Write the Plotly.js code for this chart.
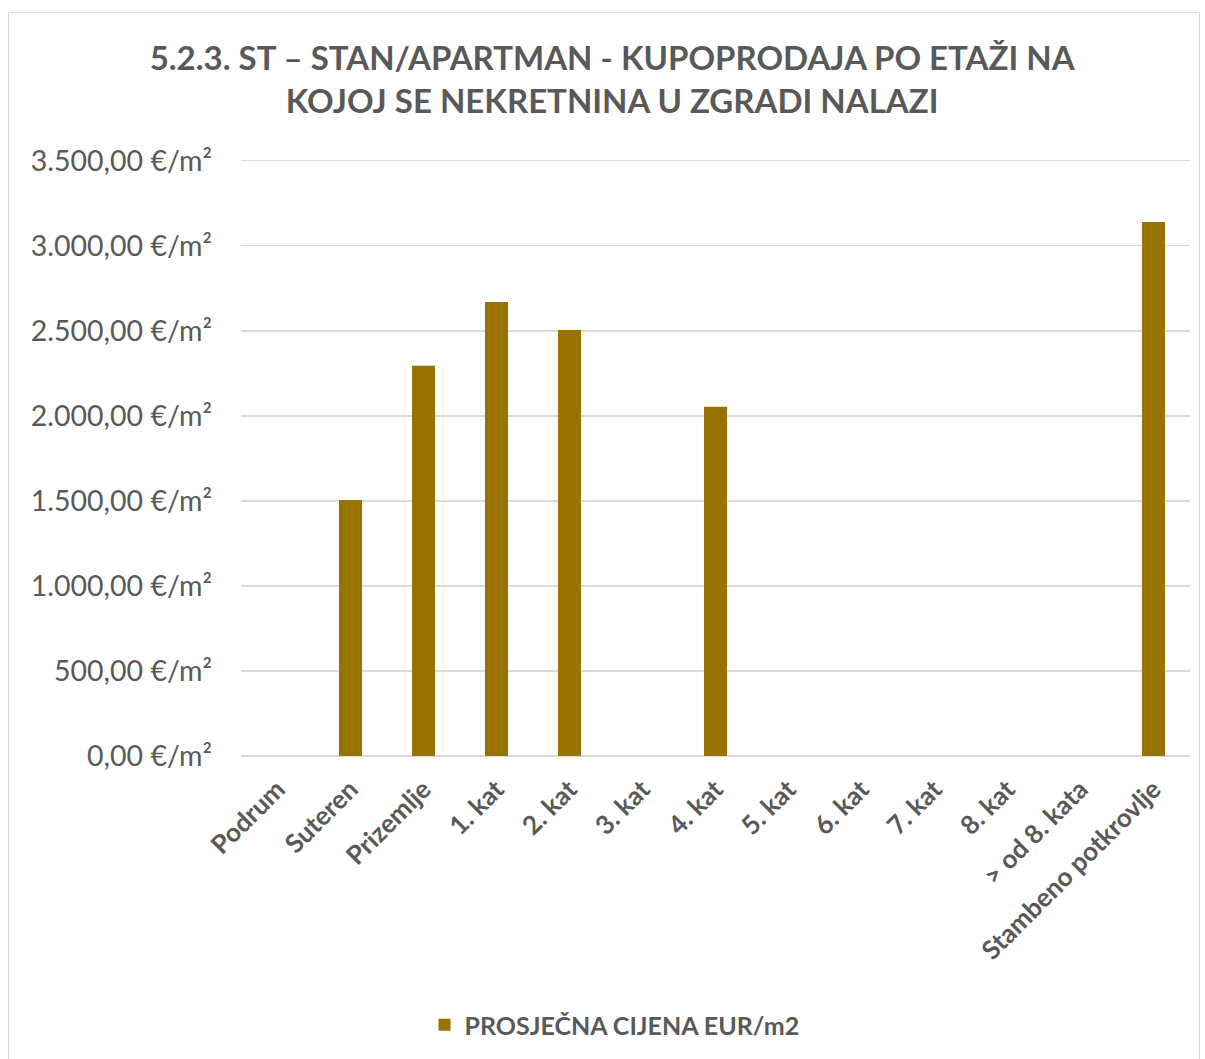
<!DOCTYPE html>
<html>
<head>
<meta charset="utf-8">
<script src="https://cdn.plot.ly/plotly-3.0.1.min.js"></script>
<style>
  html, body { margin: 0; padding: 0; background: #fff; }
  #frame { position: absolute; left: 8px; top: 12px; width: 1192px; height: 1060px; border: 1.5px solid #d9d9d9; box-sizing: border-box; }
  #chart { position: absolute; left: 0; top: 0; width: 1205px; height: 1059px; }
</style>
</head>
<body>
<div id="frame"></div>
<div id="chart"></div>
<script>
const categories = ["Podrum", "Suteren", "Prizemlje", "1. kat", "2. kat", "3. kat", "4. kat", "5. kat", "6. kat", "7. kat", "8. kat", "> od 8. kata", "Stambeno potkrovlje"];
const prices = [null, 1505, 2294, 2669, 2504, null, 2053, null, null, null, null, null, 3139];
const seriesName = "PROSJEČNA CIJENA EUR/m2";
const yTickVals = [0, 500, 1000, 1500, 2000, 2500, 3000, 3500];
const yTickText = ["0,00 €/m²", "500,00 €/m²", "1.000,00 €/m²", "1.500,00 €/m²", "2.000,00 €/m²", "2.500,00 €/m²", "3.000,00 €/m²", "3.500,00 €/m²"];
const chartTitle = "<b>5.2.3. ST – STAN/APARTMAN - KUPOPRODAJA PO ETAŽI NA<br>KOJOJ SE NEKRETNINA U ZGRADI NALAZI</b>";

const font = "Lato, 'Open Sans', sans-serif";
const grey = "#595959";

Plotly.newPlot("chart", [{
  type: "bar",
  x: categories,
  y: prices,
  name: seriesName,
  marker: { color: "#997300" },
  showlegend: true
}], {
  width: 1205,
  height: 1059,
  paper_bgcolor: "rgba(0,0,0,0)",
  plot_bgcolor: "rgba(0,0,0,0)",
  margin: { l: 241, r: 15, t: 159, b: 303 },
  bargap: 0.685,
  title: {
    text: chartTitle,
    font: { family: font, size: 33, color: grey },
    x: 0.508, xanchor: "center",
    y: 0.9335, yanchor: "middle"
  },
  xaxis: {
    type: "category",
    tickangle: -45,
    tickfont: { family: font, size: 26, color: grey, weight: "bold" },
    showline: false,
    ticks: "",
    ticklabelstandoff: 12,
    automargin: false
  },
  yaxis: {
    range: [0, 3510],
    tickvals: yTickVals,
    ticktext: yTickText,
    tickfont: { family: font, size: 28.5, color: grey },
    gridcolor: "#d9d9d9",
    gridwidth: 1.5,
    zeroline: true,
    zerolinecolor: "#d9d9d9",
    zerolinewidth: 1.5,
    ticks: "",
    ticklabelstandoff: 28,
    automargin: false
  },
  legend: {
    orientation: "h",
    x: 0.51, xanchor: "center", xref: "container",
    y: 0.032, yanchor: "middle", yref: "container",
    font: { family: font, size: 25, color: grey, weight: "bold" }
  }
}, { displayModeBar: false, staticPlot: true });
</script>
</body>
</html>
